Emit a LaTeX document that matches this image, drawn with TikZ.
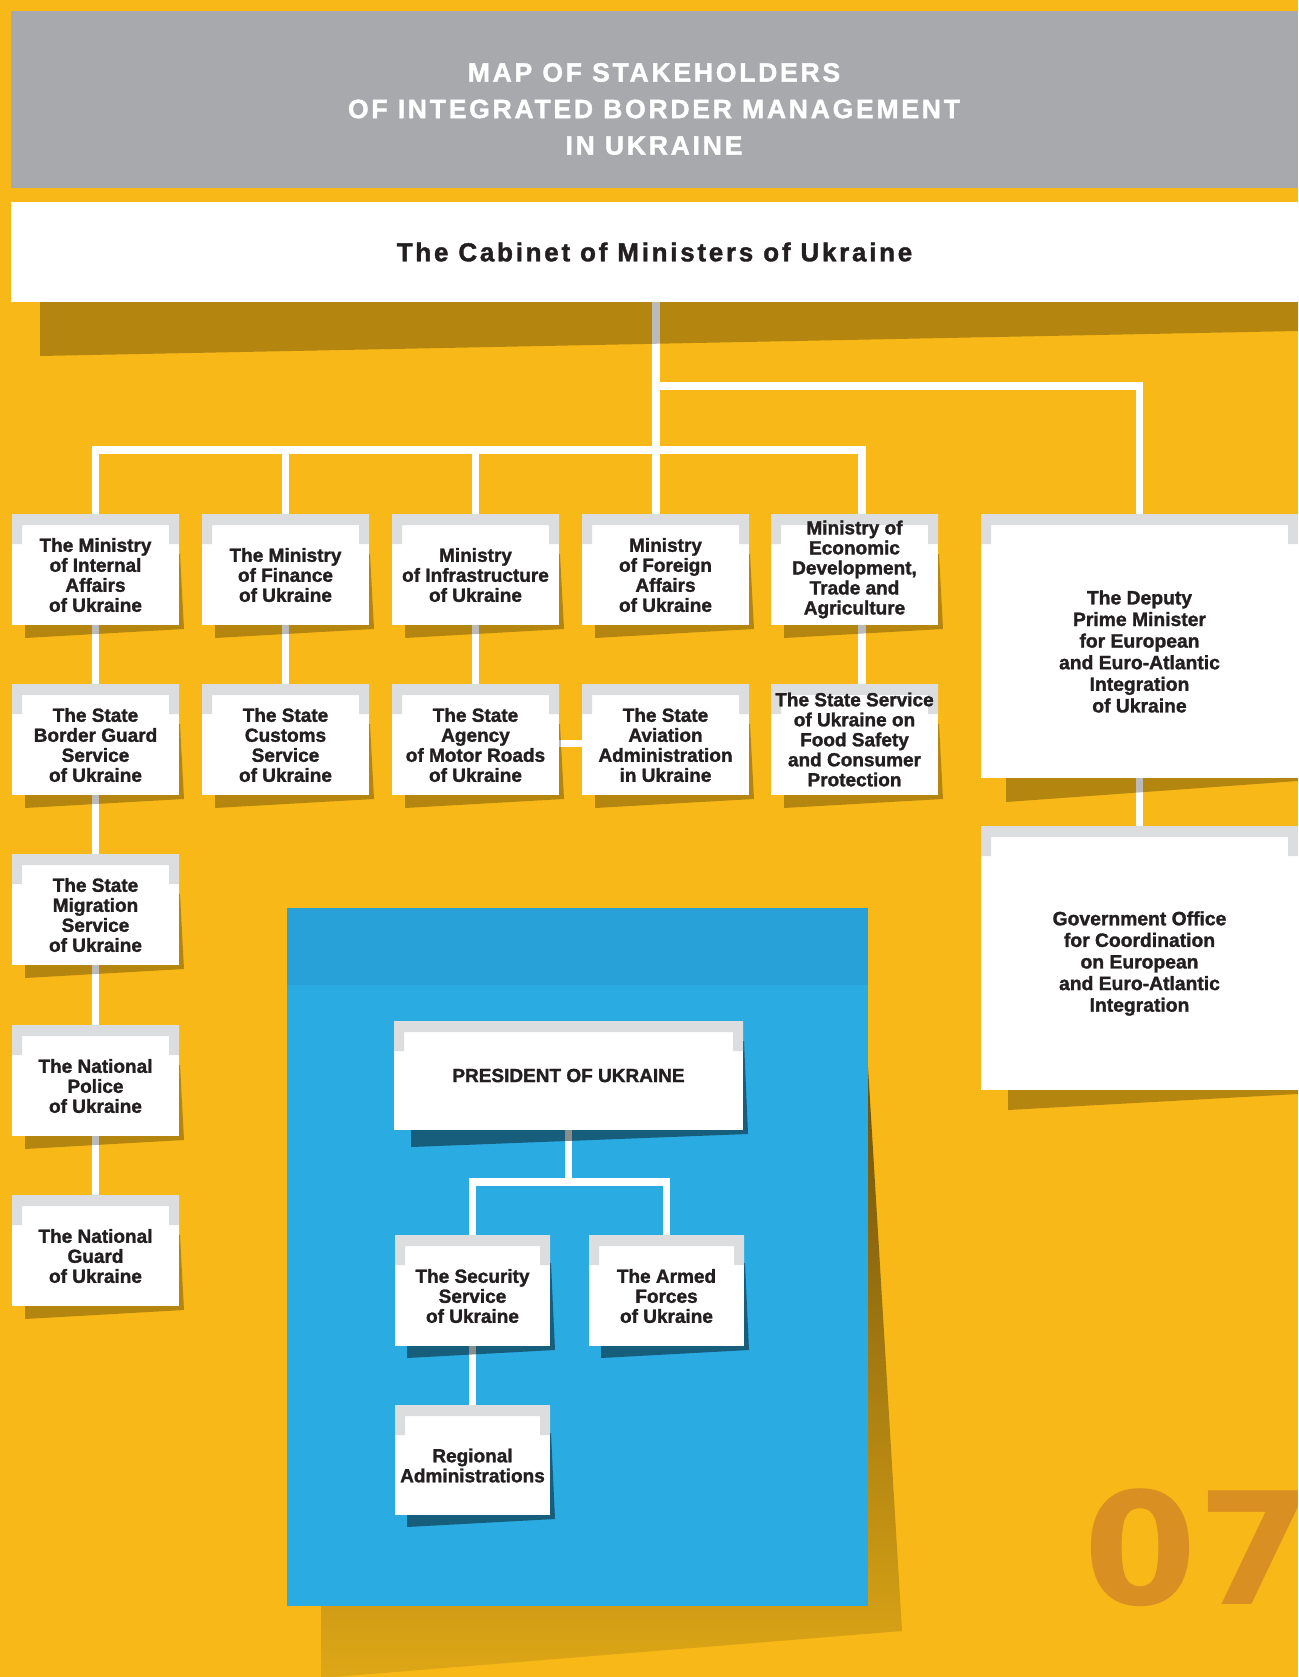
\documentclass[tikz,border=0pt]{standalone}
\usepackage{fontspec}
\setmainfont{Liberation Sans}
\newfontfamily\boxfont[FakeBold=1.5]{Liberation Sans}
\newfontfamily\widefont[LetterSpace=10.5,FakeBold=1.5]{Liberation Sans}
\newfontfamily\numfont{DejaVu Sans}
\usetikzlibrary{calc}
\definecolor{yel}{RGB}{248,184,23}
\definecolor{hdr}{RGB}{167,169,172}
\definecolor{brk}{RGB}{220,221,223}
\definecolor{txtc}{RGB}{35,31,32}
\definecolor{blu}{RGB}{42,171,226}
\definecolor{bluband}{RGB}{39,161,215}
\definecolor{numc}{RGB}{218,143,34}
\definecolor{shtop}{RGB}{110,80,12}
\definecolor{shbot}{RGB}{222,167,22}
\pgfdeclarelayer{bg}\pgfdeclarelayer{lines}\pgfdeclarelayer{shadow}
\pgfsetlayers{bg,lines,shadow,main}
\tikzset{
  obx/.style={fill=white, draw=none, inner sep=0pt, outer sep=0pt,
    path picture={\fill[brk] (path picture bounding box.north west) -- (path picture bounding box.north east)
      -- ++(0pt,-30pt) -- ++(-10pt,0pt) -- ++(0pt,19pt)
      -- ([xshift=10pt,yshift=-11pt]path picture bounding box.north west) -- ++(0pt,-19pt) -- ++(-10pt,0pt) -- cycle;}},
  otxt/.style={font=\boxfont\bfseries\fontsize{19}{20}\selectfont, text=txtc, align=center, inner sep=0pt},
  conn/.style={draw=white, line width=7.5pt, line cap=rect, line join=miter},
  ysh/.style={fill=black, fill opacity=0.27},
  bsh/.style={fill=black, fill opacity=0.45},
}
% #1 name, #2 left, #3 top, #4 width, #5 height, #6 text options, #7 text
\newcommand{\obox}[7]{%
  \node[obx, minimum width=#4pt, minimum height=#5pt, anchor=north west] (#1) at (#2,-#3) {};
  \node[otxt, #6] (#1-t) at (#1.center) {#7};}
% #1 node, #2 style, #3 drop, #4 start of right strip
\newcommand{\boxshadow}[4]{%
  \begin{pgfonlayer}{shadow}
  \fill[#2] ($(#1.south west)+(#3,0)$) -- ++(0,-#3) -- ($(#1.south east)+(5,-4)$)
     -- ($(#1.north east)+(1,-#4)$) -- ($(#1.north east)+(0,-#4)$) -- cycle;
  \end{pgfonlayer}}
\begin{document}
\begin{tikzpicture}[x=1pt,y=1pt]
\useasboundingbox (0,0) rectangle (1298,-1677);
\begin{pgfonlayer}{bg}
\fill[yel] (0,0) rectangle (1298,-1677);
\fill[hdr] (11,-11) rectangle (1298,-188);
\shade[top color=shtop, bottom color=shbot] (868,-1067) -- (902,-1631) -- (321,-1678) -- (321,-1606) -- (868,-1606) -- cycle;
\fill[blu] (287,-908) rectangle (868,-1606);
\fill[bluband] (287,-908) rectangle (868,-985);
\end{pgfonlayer}

\node[font=\widefont\bfseries\fontsize{26.5}{36.5}\selectfont, text=white, align=center, inner sep=0pt] (title) at (654,-109)
  {MAP OF STAKEHOLDERS\\OF INTEGRATED BORDER MANAGEMENT\\IN UKRAINE};

\node[fill=white, minimum width=1287pt, minimum height=100pt, inner sep=0pt, outer sep=0pt, anchor=north west,
  font=\widefont\bfseries\fontsize{26}{30}\selectfont, text=txtc] (cab) at (11,-202) {The Cabinet of Ministers of Ukraine};
\begin{pgfonlayer}{shadow}
\fill[ysh] (cab.south west -| 40,0) -- (40,-356) -- (1298,-331) -- (cab.south east) -- cycle;
\end{pgfonlayer}

% row 1
\obox{mia}{12}{514}{167}{111}{yshift=-5.5pt}{The Ministry\\of Internal\\Affairs\\of Ukraine}
\obox{mfin}{202}{514}{167}{111}{yshift=-5.5pt}{The Ministry\\of Finance\\of Ukraine}
\obox{minf}{392}{514}{167}{111}{yshift=-5.5pt}{Ministry\\of Infrastructure\\of Ukraine}
\obox{mfa}{582}{514}{167}{111}{yshift=-5.5pt}{Ministry\\of Foreign\\Affairs\\of Ukraine}
\obox{mee}{771}{514}{167}{111}{}{Ministry of\\Economic\\Development,\\Trade and\\Agriculture}
% row 2
\obox{sbgs}{12}{684}{167}{111}{yshift=-5.5pt}{The State\\Border Guard\\Service\\of Ukraine}
\obox{scs}{202}{684}{167}{111}{yshift=-5.5pt}{The State\\Customs\\Service\\of Ukraine}
\obox{sam}{392}{684}{167}{111}{yshift=-5.5pt}{The State\\Agency\\of Motor Roads\\of Ukraine}
\obox{saa}{582}{684}{167}{111}{yshift=-5.5pt}{The State\\Aviation\\Administration\\in Ukraine}
\obox{ssf}{771}{684}{167}{111}{}{The State Service\\of Ukraine on\\Food Safety\\and Consumer\\Protection}
% column 1 below
\obox{sms}{12}{854}{167}{111}{yshift=-5.5pt}{The State\\Migration\\Service\\of Ukraine}
\obox{np}{12}{1025}{167}{111}{yshift=-5.5pt}{The National\\Police\\of Ukraine}
\obox{ng}{12}{1195}{167}{111}{yshift=-5.5pt}{The National\\Guard\\of Ukraine}
% right column
\obox{dpm}{981}{514}{317}{264}{yshift=-5.5pt, font=\boxfont\bfseries\fontsize{19.3}{21.6}\selectfont}{The Deputy\\Prime Minister\\for European\\and Euro-Atlantic\\Integration\\of Ukraine}
\obox{gov}{981}{826}{317}{264}{yshift=-5.5pt, font=\boxfont\bfseries\fontsize{19.3}{21.6}\selectfont}{Government Office\\for Coordination\\on European\\and Euro-Atlantic\\Integration}
% blue panel
\obox{pres}{394}{1021}{349}{109}{}{PRESIDENT OF UKRAINE}
\obox{sec}{395}{1235}{155}{111}{yshift=-5.5pt}{The Security\\Service\\of Ukraine}
\obox{afu}{589}{1235}{155}{111}{yshift=-5.5pt}{The Armed\\Forces\\of Ukraine}
\obox{reg}{395}{1405}{155}{110}{yshift=-5.5pt}{Regional\\Administrations}

\foreach \b in {mia,mfin,minf,mfa,mee,sbgs,scs,sam,saa,ssf,sms,np,ng}{\boxshadow{\b}{ysh}{13}{40}}
\boxshadow{pres}{bsh}{17}{20}
\foreach \b in {sec,afu,reg}{\boxshadow{\b}{bsh}{12}{28}}
\begin{pgfonlayer}{shadow}
\fill[ysh] ($(dpm.south west)+(25,0)$) -- ++(0,-24) -- ($(dpm.south east)+(0,-3)$) -- (dpm.south east) -- cycle;
\fill[ysh] ($(gov.south west)+(27,0)$) -- ++(0,-20) -- ($(gov.south east)+(0,-4)$) -- (gov.south east) -- cycle;
\end{pgfonlayer}

\begin{pgfonlayer}{lines}
\coordinate (jc) at (656,-450);
\coordinate (jd) at (656,-386);
\coordinate (je) at (862,-450);
\coordinate (pj) at (568.5,-1182);
\draw[conn] (cab.south -| jc) -- (jc |- mfa.north);
\draw[conn] (jd) -| (dpm.north);
\draw[conn] (mia.north) |- (je) -- (je |- mee.north);
\draw[conn] (mfin.north) -- (mfin.north |- jc);
\draw[conn] (minf.north) -- (minf.north |- jc);
\draw[conn] (mia.south) -- (sbgs.north);
\draw[conn] (sbgs.south) -- (sms.north);
\draw[conn] (sms.south) -- (np.north);
\draw[conn] (np.south) -- (ng.north);
\draw[conn] (mfin.south) -- (scs.north);
\draw[conn] (minf.south) -- (sam.north);
\draw[conn] (mee.south -| je) -- (ssf.north -| je);
\draw[conn] ([yshift=-4pt]sam.east) -- ([yshift=-4pt]saa.west);
\draw[conn] (dpm.south) -- (gov.north);
\draw[conn] (pres.south) -- (pj);
\draw[conn] (sec.north) |- (pj) -| (afu.north);
\draw[conn] (sec.south) -- (reg.north);
\end{pgfonlayer}

\node[font=\numfont\bfseries\fontsize{156}{156}\selectfont, text=numc, anchor=base west, inner sep=0pt, xscale=1.05] (num) at (1083,-1604) {07};
\end{tikzpicture}
\end{document}
